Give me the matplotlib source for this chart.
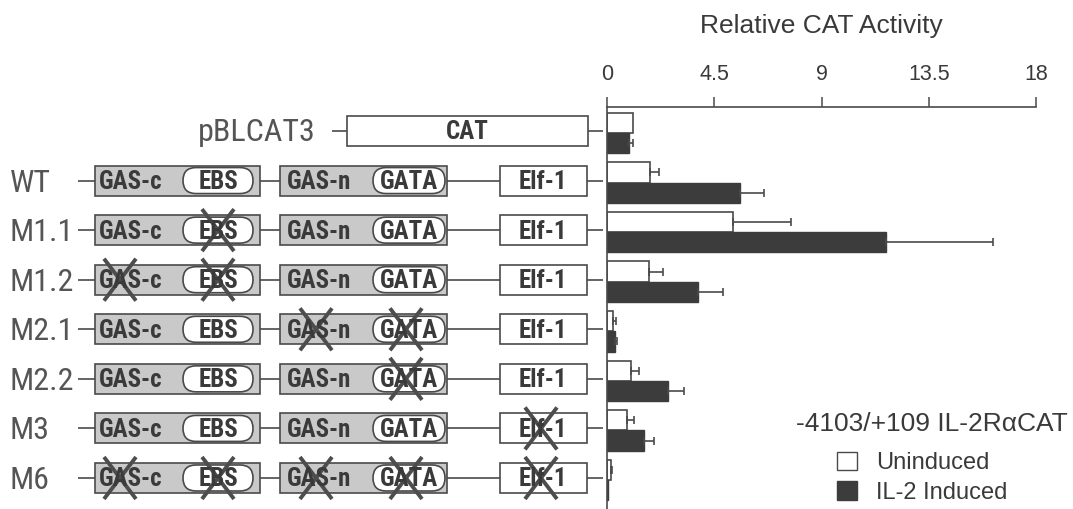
import numpy as np
import matplotlib
matplotlib.use('Agg')
import matplotlib.pyplot as plt
from matplotlib.patches import Rectangle, FancyBboxPatch, Patch
from matplotlib import font_manager

# data
constructs = ['pBLCAT3', 'WT', 'M1.1', 'M1.2', 'M2.1', 'M2.2', 'M3', 'M6']
uninduced = [1.1, 1.8, 5.3, 1.75, 0.25, 1.0, 0.85, 0.17]
uninduced_err = [0.0, 0.38, 2.4, 0.6, 0.12, 0.34, 0.3, 0.05]
induced = [0.93, 5.6, 11.7, 3.8, 0.34, 2.55, 1.55, 0.06]
induced_err = [0.17, 1.0, 4.5, 1.05, 0.1, 0.7, 0.42, 0.0]
# which sites are knocked out in each construct
mutated = [[], [], ['EBS'], ['GAS-c', 'EBS'], ['GAS-n', 'GATA'], ['GATA'], ['Elf-1'],
           ['GAS-c', 'EBS', 'GAS-n', 'GATA', 'Elf-1']]
x_ticks = [0, 4.5, 9, 13.5, 18]
x_tick_labels = ['0', '4.5', '9', '13.5', '18']
x_title = 'Relative CAT Activity'
legend_title = '-4103/+109 IL-2R\u03b1CAT'
legend_labels = ['Uninduced', 'IL-2 Induced']


def pick(*names):
    have = {f.name for f in font_manager.fontManager.ttflist}
    for n in names:
        if n in have:
            return n
    return 'DejaVu Sans'


SANS = pick('Liberation Sans', 'Arial')
NARROW = pick('Liberation Sans Narrow', 'Roboto Condensed', 'Roboto', 'Liberation Sans')

INK = '#4a4a4a'
TXT = '#3a3a3a'
LABEL = '#555555'
DARK = '#3c3c3c'
BOXGRAY = '#c9c9c9'

W, H = 1073, 509
fig = plt.figure(figsize=(W / 100, H / 100), dpi=100)
fig.patch.set_facecolor('white')

# schematic layer in pixel units
ax_s = fig.add_axes([0, 0, 1, 1])
ax_s.set_xlim(0, W)
ax_s.set_ylim(H, 0)
ax_s.axis('off')

# bar chart layer
top_px, x0_px, x1_px = 107, 607, 1036
row_px = 49.57
ax_b = fig.add_axes([x0_px / W, 0, (x1_px - x0_px) / W, (H - top_px) / H])
ax_b.patch.set_visible(False)

n = len(constructs)
rows = np.arange(n)
h = 0.41
ax_b.barh(rows - h / 2, uninduced, height=h, color='white', edgecolor=INK, linewidth=1.2)
ax_b.barh(rows + h / 2, induced, height=h, color=DARK, edgecolor=DARK, linewidth=1.0)

u = np.array(uninduced)
ue = np.array(uninduced_err)
m = ue > 0
ax_b.errorbar(u[m], (rows - h / 2)[m], xerr=[np.zeros(m.sum()), ue[m]], fmt='none',
              ecolor=INK, elinewidth=1.2, capsize=3, capthick=1.2)
iv = np.array(induced)
ie = np.array(induced_err)
m = ie > 0
ax_b.errorbar(iv[m], (rows + h / 2)[m], xerr=[np.zeros(m.sum()), ie[m]], fmt='none',
              ecolor=INK, elinewidth=1.2, capsize=3, capthick=1.2)

ax_b.set_xlim(0, 18)
ax_b.set_ylim(n - 1 + (H - (top_px + (n - 1 + 0.5245) * row_px)) / row_px, -0.5245)
ax_b.xaxis.tick_top()
ax_b.xaxis.set_label_position('top')
ax_b.set_xticks(x_ticks, labels=x_tick_labels)
ax_b.tick_params(axis='x', direction='out', length=7, width=1.1, color=INK,
                 labelsize=15.5, labelcolor=TXT, pad=9)
for lab in ax_b.get_xticklabels():
    lab.set_fontfamily(SANS)
ax_b.set_yticks([])
ax_b.set_xlabel(x_title, fontsize=19, color=TXT, family=SANS, labelpad=22)
for s in ['right', 'bottom']:
    ax_b.spines[s].set_visible(False)
for s in ['top', 'left']:
    ax_b.spines[s].set_color(INK)
    ax_b.spines[s].set_linewidth(1.2)

# legend: title set apart so its gap to the entries can match
fig.text(932 / W, 1 - 424 / H, legend_title, ha='center', va='center',
         fontsize=19, family=SANS, color=TXT)
ax_b.legend(handles=[Patch(facecolor='white', edgecolor=INK, linewidth=1.0),
                     Patch(facecolor=DARK, edgecolor=DARK)],
            labels=legend_labels, frameon=False,
            loc='upper left', bbox_to_anchor=(837 / W, 1 - 452 / H),
            bbox_transform=fig.transFigure, borderpad=0, borderaxespad=0,
            handlelength=0.85, handleheight=0.82, handletextpad=0.8, labelspacing=0.3,
            prop={'family': SANS, 'size': 17})
for t in ax_b.get_legend().get_texts():
    t.set_color(TXT)

# schematic of the constructs
lw = 1.2
box_h = 15
pill_h = 13
cross_pos = {'GAS-c': 120, 'EBS': 218, 'GAS-n': 316, 'GATA': 406, 'Elf-1': 541}


def line(x0, x1, y):
    ax_s.plot([x0, x1], [y, y], color=INK, lw=lw, solid_capstyle='butt')


def box(x0, x1, y, fc):
    ax_s.add_patch(Rectangle((x0, y - box_h), x1 - x0, 2 * box_h, facecolor=fc,
                             edgecolor=INK, lw=lw))


def pill(x0, x1, y):
    ax_s.add_patch(FancyBboxPatch((x0, y - pill_h), x1 - x0, 2 * pill_h,
                                  boxstyle='round,pad=0,rounding_size=%d' % pill_h,
                                  facecolor='white', edgecolor=INK, lw=lw))


def btext(x, y, s, ha='center'):
    ax_s.text(x, y + 8.5, s, ha=ha, va='baseline', fontsize=18, fontweight='bold',
              family=NARROW, color=TXT)


def cross(xc, y):
    ax_s.plot([xc - 16, xc + 16], [y - 21, y + 21], color='#4d4d4d', lw=2.8,
              solid_capstyle='butt')
    ax_s.plot([xc - 16, xc + 16], [y + 21, y - 21], color='#4d4d4d', lw=2.8,
              solid_capstyle='butt')


for i, name in enumerate(constructs):
    y = top_px + (i + 0.5245) * row_px - 2
    if name == 'pBLCAT3':
        ax_s.text(316, y + 10, name, ha='right', va='baseline', fontsize=23,
                  family=NARROW, color=LABEL)
        line(332, 347, y)
        box(347, 588, y, 'white')
        btext(467, y, 'CAT')
        line(588, 603, y)
        continue
    ax_s.text(10, y + 11, name, ha='left', va='baseline', fontsize=23,
              family=NARROW, color=LABEL)
    line(78, 95, y)
    box(95, 260, y, BOXGRAY)
    pill(183, 253, y)
    btext(99, y, 'GAS-c', ha='left')
    btext(218, y, 'EBS')
    line(260, 280, y)
    box(280, 447, y, BOXGRAY)
    pill(373, 445, y)
    btext(287, y, 'GAS-n', ha='left')
    btext(409, y, 'GATA')
    line(447, 500, y)
    box(500, 587, y, 'white')
    btext(543, y, 'Elf-1')
    line(587, 603, y)
    for site in mutated[i]:
        cross(cross_pos[site], y)

fig.savefig('out.png', dpi=100)
